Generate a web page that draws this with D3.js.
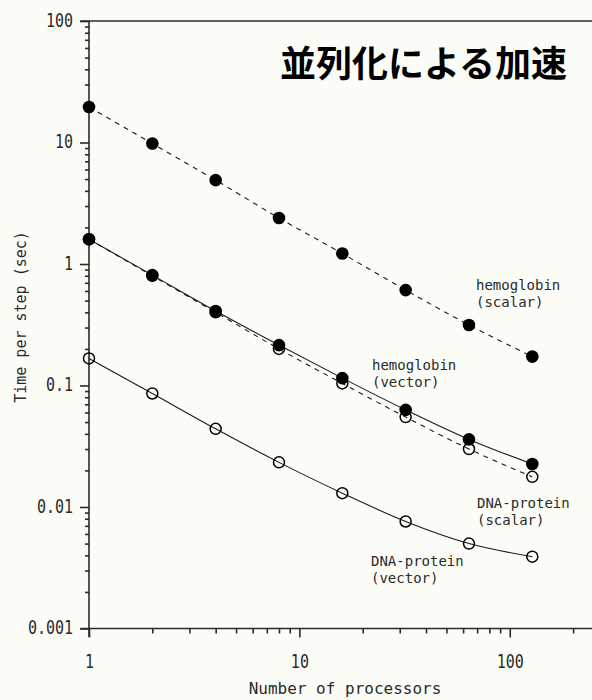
<!DOCTYPE html>
<html>
<head>
<meta charset="utf-8">
<script src="https://cdn.jsdelivr.net/npm/d3@7"></script>
<style>
  html, body { margin: 0; padding: 0; background: #fdfdf8; }
  svg { display: block; }
</style>
</head>
<body>
<svg id="chart" width="592" height="700"></svg>
<script>
// Processor counts on the x axis
const processors = [1, 2, 4, 8, 16, 32, 64, 128];

// Time per step (sec) for each benchmark
const hemoglobinScalar = [19.6, 9.8, 4.9, 2.39, 1.22, 0.61, 0.315, 0.173];
const hemoglobinVector = [1.6, 0.81, 0.41, 0.215, 0.115, 0.063, 0.036, 0.0226];
const dnaProteinScalar = [1.6, 0.8, 0.4, 0.2, 0.104, 0.055, 0.030, 0.0177];
const dnaProteinVector = [0.167, 0.086, 0.044, 0.0233, 0.013, 0.0076, 0.0050, 0.0039];

// Tick labels
const xTickLabels = [1, 10, 100];
const yTickLabels = [0.001, 0.01, 0.1, 1, 10, 100];

const title = "並列化による加速";
const xTitle = "Number of processors";
const yTitle = "Time per step (sec)";

const ink = "#2a2a2a";
const svg = d3.select("#chart");

const x = d3.scaleLog().domain([1, 246]).range([89, 592]);
const y = d3.scaleLog().domain([0.001, 100]).range([628.5, 21]);

const isMajor = v => Math.abs(Math.log10(v) - Math.round(Math.log10(v))) < 1e-9;

// ---- axes ----
const xAxis = d3.axisBottom(x)
  .tickValues(x.ticks())
  .tickSize(5)
  .tickFormat(d => xTickLabels.includes(d) ? String(d) : "");
const gx = svg.append("g").attr("transform", "translate(0,628.5)").call(xAxis);
gx.select(".domain").attr("d", "M80.5,0H592").attr("stroke", ink).attr("stroke-width", 1.6);
gx.selectAll(".tick line").attr("stroke", ink).attr("stroke-width", 1.6)
  .attr("y2", d => isMajor(d) ? 9 : 5);
gx.selectAll(".tick text")
  .attr("font-family", "DejaVu Sans Mono, monospace")
  .attr("font-size", 15).attr("fill", ink)
  .attr("transform", "scale(1,1.3)")
  .attr("y", 20).attr("dy", "0.71em");

const yAxis = d3.axisLeft(y)
  .tickValues(y.ticks())
  .tickSize(4)
  .tickFormat(d => yTickLabels.includes(d) ? String(d) : "");
const gy = svg.append("g").attr("transform", "translate(89,0)").call(yAxis);
gy.select(".domain").attr("d", "M0,21V637").attr("stroke", ink).attr("stroke-width", 1.6);
gy.selectAll(".tick line").attr("stroke", ink).attr("stroke-width", 1.6)
  .attr("x2", d => isMajor(d) ? -9 : -4);
gy.selectAll(".tick text")
  .attr("font-family", "DejaVu Sans Mono, monospace")
  .attr("font-size", 15).attr("fill", ink)
  .attr("x", -16)
  .attr("transform", d => `translate(0,${y(d) * 0})scale(1,1.3)`)
  .attr("dy", "0.28em");

// top frame line
svg.append("line")
  .attr("x1", 80.5).attr("x2", 592).attr("y1", y(100)).attr("y2", y(100))
  .attr("stroke", ink).attr("stroke-width", 1.6);

// axis titles
svg.append("text")
  .attr("x", 345).attr("y", 694)
  .attr("text-anchor", "middle")
  .attr("font-family", "DejaVu Sans Mono, monospace")
  .attr("font-size", 16).attr("fill", ink)
  .text(xTitle);

svg.append("text")
  .attr("transform", "translate(26,317) rotate(-90)")
  .attr("text-anchor", "middle")
  .attr("font-family", "DejaVu Sans Mono, monospace")
  .attr("font-size", 15).attr("fill", ink)
  .text(yTitle);

// chart title
svg.append("text")
  .attr("x", 567).attr("y", 77)
  .attr("text-anchor", "end")
  .attr("font-family", "Noto Sans CJK JP, sans-serif")
  .attr("font-weight", "bold")
  .attr("font-size", 36).attr("fill", "#000")
  .text(title);

// ---- series ----
const series = [
  { name: "dnaVector", values: dnaProteinVector, dashed: false, filled: false },
  { name: "dnaScalar", values: dnaProteinScalar, dashed: true, filled: false },
  { name: "hemoVector", values: hemoglobinVector, dashed: false, filled: true },
  { name: "hemoScalar", values: hemoglobinScalar, dashed: true, filled: true }
];

const line = d3.line()
  .x(d => x(d[0]))
  .y(d => y(d[1]))
  .curve(d3.curveMonotoneX);

series.forEach(s => {
  svg.append("path")
    .datum(processors.map((p, i) => [p, s.values[i]]))
    .attr("d", line)
    .attr("fill", "none")
    .attr("stroke", "#1a1a1a")
    .attr("stroke-width", 1.1)
    .attr("stroke-dasharray", s.dashed ? "5,5" : null);
});

// open markers first, filled markers on top
series.filter(s => !s.filled).forEach(s => {
  svg.append("g").selectAll("circle")
    .data(processors.map((p, i) => [p, s.values[i]]))
    .join("circle")
    .attr("cx", d => x(d[0])).attr("cy", d => y(d[1]))
    .attr("r", 5.5)
    .attr("fill", "none")
    .attr("stroke", "#000").attr("stroke-width", 1.5);
});
series.filter(s => s.filled).forEach(s => {
  svg.append("g").selectAll("circle")
    .data(processors.map((p, i) => [p, s.values[i]]))
    .join("circle")
    .attr("cx", d => x(d[0])).attr("cy", d => y(d[1]))
    .attr("r", 6.3)
    .attr("fill", "#000");
});

// ---- series labels ----
const labels = [
  { lines: ["hemoglobin", "(scalar)"], x: 476, y: 290 },
  { lines: ["hemoglobin", "(vector)"], x: 372, y: 370 },
  { lines: ["DNA-protein", "(scalar)"], x: 477, y: 508 },
  { lines: ["DNA-protein", "(vector)"], x: 371, y: 566 }
];
labels.forEach(l => {
  const t = svg.append("text")
    .attr("font-family", "DejaVu Sans Mono, monospace")
    .attr("font-size", 14).attr("fill", ink);
  l.lines.forEach((s, i) => {
    t.append("tspan").attr("x", l.x).attr("y", l.y + i * 16.5).text(s);
  });
});
</script>
</body>
</html>
